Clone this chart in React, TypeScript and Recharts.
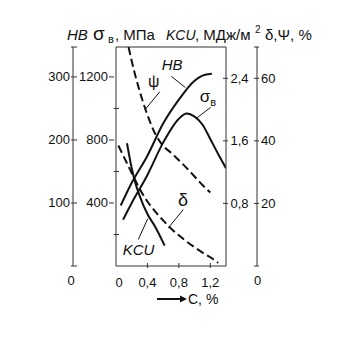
import { ComposedChart, Line, XAxis, YAxis, ReferenceLine, ReferenceDot } from 'recharts';

// carbon content, % (x) and property values
const hbC = [0.06, 0.2, 0.4, 0.6, 0.8, 1.0, 1.1, 1.22];
const hbV = [96, 132, 175, 226, 264, 294, 302, 305];

const sigmaC = [0.09, 0.2, 0.4, 0.6, 0.8, 0.9, 1.0, 1.1, 1.2, 1.3, 1.4];
const sigmaV = [294, 400, 578, 783, 935, 968, 948, 898, 806, 711, 621];

const psiC = [0.16, 0.2, 0.3, 0.4, 0.5, 0.6, 0.7, 0.8, 0.9, 1.0, 1.1, 1.2];
const psiV = [70, 65.5, 56, 48.3, 42.2, 38.4, 36.2, 33.8, 31.3, 28.6, 25.9, 23.5];

const deltaC = [0.03, 0.1, 0.2, 0.3, 0.4, 0.5, 0.6, 0.7, 0.8, 0.9, 1.0, 1.1, 1.2, 1.3];
const deltaV = [38.5, 34.9, 29.7, 24.7, 20.6, 17.4, 14.6, 12, 9.8, 7.8, 6, 4.3, 2.8, 1];

const kcuC = [0.14, 0.2, 0.25, 0.3, 0.4, 0.5, 0.62];
const kcuV = [1.57, 1.25, 1.05, 0.9, 0.665, 0.5, 0.26];

// axis ticks
const xTicks = [0, 0.4, 0.8, 1.2];
const sigmaTicks = [200, 400, 600, 800, 1000, 1200];
const hbTicks = [0, 100, 200, 300, 347.5];
const kcuTicks = [0.8, 1.6, 2.4];
const dpTicks = [0, 20, 40, 60, 70];
const SIGMA_MAX = 1390;

// curve labels and leader lines, in (C %, σв MPa) units
const labels = [
  { id: 'HB', c: 0.581, s: 1242 },
  { id: 'sigma', c: 1.065, s: 1042 },
  { id: 'psi', c: 0.407, s: 1135 },
  { id: 'delta', c: 0.789, s: 383 },
  { id: 'KCU', c: 0.085, s: 67 },
];
const leaders = [
  [0.704, 1204, 0.882, 1133],
  [1.205, 1007, 1.022, 937],
  [0.556, 1105, 0.365, 990],
  [0.856, 358, 0.665, 242],
  [0.284, 168, 0.403, 299],
];

const pts = (cs: number[], vs: number[]) => cs.map((c, i) => ({ c, v: vs[i] }));

const INK = '#111';
const AXIS = '#333';
const FONT = '"Liberation Sans", Arial, sans-serif';
const fmt = (v: number) => String(v).replace('.', ',');

const SigmaTick = ({ x, y, payload }: any) => {
  const v = payload.value;
  if (v % 400 === 0) {
    return (
      <g>
        <line x1={x - 5} x2={x} y1={y} y2={y} stroke={AXIS} />
        <text x={x - 6} y={y + 4.5} textAnchor="end" fontSize={13} fontFamily={FONT} fill={INK}>{v}</text>
      </g>
    );
  }
  return <line x1={x} x2={x + 5} y1={y} y2={y} stroke={AXIS} />;
};

const HbTick = ({ x, y, payload }: any) => {
  const v = payload.value;
  return (
    <g>
      <line x1={x} x2={x + 6} y1={y} y2={y} stroke={AXIS} />
      {v > 0 && v <= 300 && (
        <text x={x - 1} y={y + 4.5} textAnchor="end" fontSize={13} fontFamily={FONT} fill={INK}>{v}</text>
      )}
      {v === 0 && (
        <text x={x} y={y + 19} textAnchor="middle" fontSize={13} fontFamily={FONT} fill={INK}>0</text>
      )}
    </g>
  );
};

const KcuTick = ({ x, y, payload }: any) => (
  <g>
    <line x1={x - 5} x2={x} y1={y} y2={y} stroke={AXIS} />
    <text x={x + 2.5} y={y + 4.5} textAnchor="start" fontSize={13} fontFamily={FONT} fill={INK}>{fmt(payload.value)}</text>
  </g>
);

const DpTick = ({ x, y, payload }: any) => {
  const v = payload.value;
  return (
    <g>
      <line x1={x - 5} x2={x} y1={y} y2={y} stroke={AXIS} />
      {v > 0 && v <= 60 && (
        <text x={x + 2} y={y + 4.5} textAnchor="start" fontSize={13} fontFamily={FONT} fill={INK}>{v}</text>
      )}
      {v === 0 && (
        <text x={x - 1.5} y={y + 19} textAnchor="middle" fontSize={13} fontFamily={FONT} fill={INK}>0</text>
      )}
    </g>
  );
};

const XTick = ({ x, y, payload }: any) => {
  const v = payload.value;
  return (
    <g>
      {v > 0 && <line x1={x} x2={x} y1={y - 5} y2={y} stroke={AXIS} />}
      <text x={v === 0 ? x + 3 : x} y={y + 19} textAnchor="middle" fontSize={13} fontFamily={FONT} fill={INK}>{fmt(v)}</text>
    </g>
  );
};

const CurveLabel = ({ cx, cy, id }: any) => {
  const common = { fontFamily: FONT, fill: INK };
  if (id === 'HB') return <text x={cx} y={cy} fontSize={15} fontStyle="italic" {...common}>HB</text>;
  if (id === 'KCU') return <text x={cx} y={cy} fontSize={15} fontStyle="italic" {...common}>KCU</text>;
  if (id === 'psi') return <text x={cx} y={cy} fontSize={16} {...common}>ψ</text>;
  if (id === 'delta') return <text x={cx} y={cy} fontSize={18} {...common}>δ</text>;
  return (
    <text x={cx} y={cy} fontSize={17} {...common}>
      σ<tspan fontSize={11} dy={4}>в</tspan>
    </text>
  );
};

const t = { fontFamily: FONT, fill: INK };

export default function App() {
  return (
    <ComposedChart width={345} height={345} margin={{ top: 39, right: 56, bottom: 57, left: 0 }}>
      <XAxis xAxisId="c" type="number" dataKey="c" domain={[0, 1.4]} ticks={xTicks} interval={0}
        allowDataOverflow height={30} tickSize={0} tickLine={false} axisLine={{ stroke: AXIS }} tick={<XTick />} />
      <YAxis yAxisId="b_hb" orientation="left" type="number" domain={[0, 347.5]} ticks={hbTicks} interval={0}
        allowDataOverflow width={65} tickSize={0} tickLine={false} axisLine={{ stroke: AXIS }} tick={<HbTick />} />
      <YAxis yAxisId="a_sigma" orientation="left" type="number" domain={[0, SIGMA_MAX]} ticks={sigmaTicks} interval={0}
        allowDataOverflow width={43} tickSize={0} tickLine={false} axisLine={{ stroke: AXIS }} tick={<SigmaTick />} />
      <YAxis yAxisId="b_dp" orientation="right" type="number" domain={[0, 70]} ticks={dpTicks} interval={0}
        allowDataOverflow width={40} tickSize={0} tickLine={false} axisLine={{ stroke: AXIS }} tick={<DpTick />} />
      <YAxis yAxisId="a_kcu" orientation="right" type="number" domain={[0, 2.8]} ticks={kcuTicks} interval={0}
        allowDataOverflow width={31} tickSize={0} tickLine={false} axisLine={{ stroke: AXIS }} tick={<KcuTick />} />

      <ReferenceLine xAxisId="c" yAxisId="a_sigma" y={SIGMA_MAX} stroke={AXIS} ifOverflow="visible" />

      <Line xAxisId="c" yAxisId="b_hb" data={pts(hbC, hbV)} dataKey="v" type="monotone" stroke={INK} strokeWidth={2} dot={false} isAnimationActive={false} />
      <Line xAxisId="c" yAxisId="a_sigma" data={pts(sigmaC, sigmaV)} dataKey="v" type="monotone" stroke={INK} strokeWidth={2} dot={false} isAnimationActive={false} />
      <Line xAxisId="c" yAxisId="b_dp" data={pts(psiC, psiV)} dataKey="v" type="monotone" stroke={INK} strokeWidth={2} strokeDasharray="8 4" dot={false} isAnimationActive={false} />
      <Line xAxisId="c" yAxisId="b_dp" data={pts(deltaC, deltaV)} dataKey="v" type="monotone" stroke={INK} strokeWidth={2} strokeDasharray="8 4" dot={false} isAnimationActive={false} />
      <Line xAxisId="c" yAxisId="a_kcu" data={pts(kcuC, kcuV)} dataKey="v" type="monotone" stroke={INK} strokeWidth={2} dot={false} isAnimationActive={false} />

      {leaders.map((l, i) => (
        <ReferenceLine key={'l' + i} xAxisId="c" yAxisId="a_sigma" segment={[{ x: l[0], y: l[1] }, { x: l[2], y: l[3] }]} stroke={INK} strokeWidth={1} />
      ))}
      {labels.map((l) => (
        <ReferenceDot key={l.id} xAxisId="c" yAxisId="a_sigma" x={l.c} y={l.s} r={0}
          shape={(p: any) => <CurveLabel cx={p.cx} cy={p.cy} id={l.id} />} />
      ))}

      <text x={59} y={31.5} fontSize={15} fontStyle="italic" {...t}>HB</text>
      <text x={85} y={31.5} fontSize={19} {...t}>σ</text>
      <text x={100} y={35} fontSize={11} {...t}>в</text>
      <text x={107} y={31.5} fontSize={15} {...t}>, МПа</text>
      <text x={158} y={31.5} fontSize={14} fontStyle="italic" {...t}>KCU</text>
      <text x={187} y={31.5} fontSize={15} {...t}>, МДж/м</text>
      <text x={247} y={25} fontSize={10} {...t}>2</text>
      <text x={257} y={31.5} fontSize={15} {...t}>δ,Ψ, %</text>

      <line x1={149} x2={174} y1={291} y2={291} stroke={INK} strokeWidth={2} />
      <path d="M172,287.5 L179,291 L172,294.5 Z" fill={INK} />
      <text x={180} y={296} fontSize={14} {...t}>C, %</text>
    </ComposedChart>
  );
}
